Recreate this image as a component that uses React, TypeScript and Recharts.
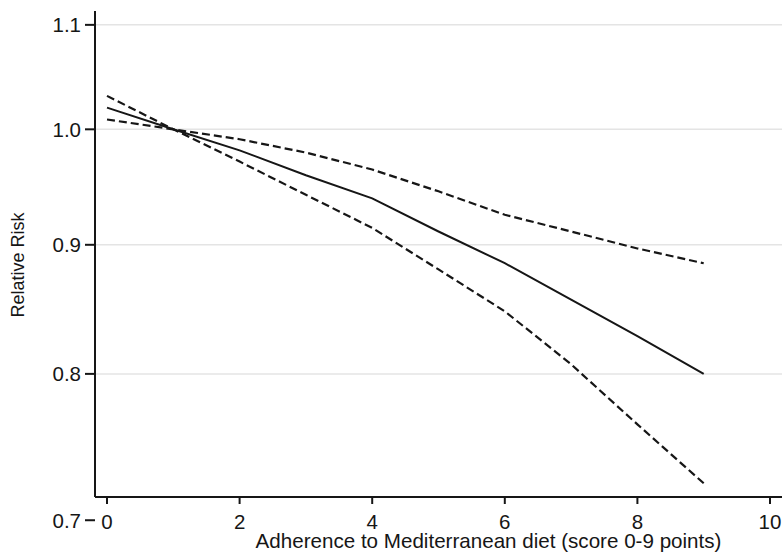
import { Line, LineChart, ReferenceLine, XAxis, YAxis } from "recharts";

const scores = [0, 1, 2, 3, 4, 5, 6, 7, 8, 9];
const relativeRisk = [1.02, 1.0, 0.981, 0.959, 0.939, 0.911, 0.885, 0.856, 0.828, 0.8];
const lowerBound = [1.031, 1.0, 0.971, 0.942, 0.914, 0.88, 0.847, 0.807, 0.764, 0.724];
const upperBound = [1.009, 1.0, 0.991, 0.979, 0.964, 0.945, 0.925, 0.911, 0.897, 0.885];

const xTicks = [0, 2, 4, 6, 8, 10];
const yTicks = [0.7, 0.8, 0.9, 1.0, 1.1];
const gridValues = [0.8, 0.9, 1.0, 1.1];

const data = scores.map((s, i) => ({
  score: s,
  rr: relativeRisk[i],
  lo: lowerBound[i],
  hi: upperBound[i],
}));

const FONT = '"Liberation Sans", Arial, sans-serif';
const INK = "#161616";

function XLabel({ viewBox }: any) {
  const cx = viewBox.x + viewBox.width / 2 + 50;
  return (
    <text x={cx} y={viewBox.y + viewBox.height - 4} textAnchor="middle" fontSize={20.6} fill={INK} fontFamily={FONT}>
      Adherence to Mediterranean diet (score 0-9 points)
    </text>
  );
}

function YLabel({ viewBox }: any) {
  const x = viewBox.x + 24;
  const y = viewBox.y + viewBox.height / 2 + 11;
  return (
    <text x={x} y={y} transform={`rotate(-90, ${x}, ${y})`} textAnchor="middle" fontSize={18} fill={INK} fontFamily={FONT}>
      Relative Risk
    </text>
  );
}

export default function App() {
  return (
    <div style={{ position: "absolute", left: 0, top: 0, background: "#fff" }}>
      <LineChart width={782} height={552} data={data} margin={{ top: 11, right: 0, bottom: 0, left: 0 }}>
        {gridValues.map((v) => (
          <ReferenceLine key={v} y={v} stroke="#e4e4e4" strokeWidth={1.5} />
        ))}
        <XAxis
          dataKey="score"
          type="number"
          domain={[0, 10]}
          ticks={xTicks}
          interval={0}
          padding={{ left: 12, right: 12 }}
          height={55}
          tickSize={7}
          tickMargin={10}
          stroke={INK}
          strokeWidth={2}
          tick={{ fill: INK, fontSize: 20.5, fontFamily: FONT }}
          label={<XLabel />}
        />
        <YAxis
          type="number"
          scale="log"
          domain={[0.715, 1.114]}
          allowDataOverflow
          ticks={yTicks}
          interval={0}
          width={95}
          tickSize={10}
          tickMargin={4}
          stroke={INK}
          strokeWidth={2}
          tickFormatter={(v: number) => v.toFixed(1)}
          tick={{ fill: INK, fontSize: 20.5, fontFamily: FONT }}
          label={<YLabel />}
        />
        <Line dataKey="lo" type="linear" stroke={INK} strokeWidth={2.2} strokeDasharray="8 4" dot={false} isAnimationActive={false} />
        <Line dataKey="hi" type="linear" stroke={INK} strokeWidth={2.2} strokeDasharray="8 4" dot={false} isAnimationActive={false} />
        <Line dataKey="rr" type="linear" stroke={INK} strokeWidth={2} dot={false} isAnimationActive={false} />
      </LineChart>
    </div>
  );
}
